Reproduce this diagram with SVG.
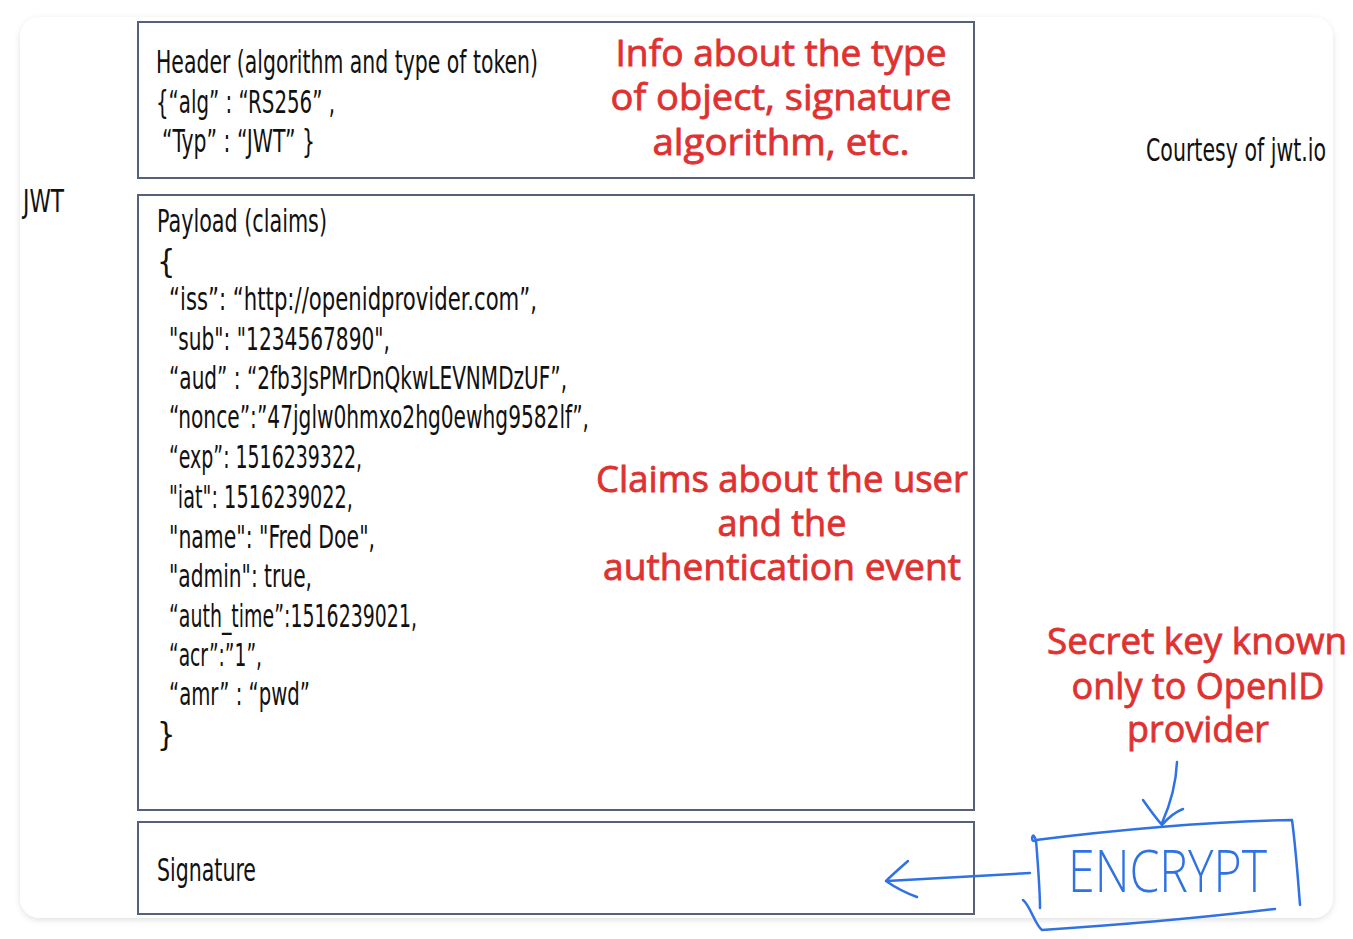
<svg xmlns="http://www.w3.org/2000/svg" width="1353" height="939" viewBox="0 0 1353 939">
<defs>
<filter id="sh" x="-5%" y="-5%" width="110%" height="110%">
<feDropShadow dx="0" dy="2" stdDeviation="3" flood-color="#000" flood-opacity="0.12"/>
</filter>
<style>
.box{fill:#fff;stroke:#56607a;stroke-width:2}
.t{font-family:"Liberation Sans Narrow","DejaVu Sans Condensed","Liberation Sans",sans-serif;font-size:32px;fill:#111}
.r{font-family:"Open Sans","DejaVu Sans",sans-serif;font-size:36px;fill:#e03131;stroke:#e03131;stroke-width:0.8;text-anchor:middle}
.b{fill:none;stroke:#2f72e4;stroke-width:2.5;stroke-linecap:round;stroke-linejoin:round}
.bt{font-family:"Open Sans","Liberation Sans Narrow",sans-serif;font-size:58px;font-weight:300;fill:#2f72e4}
</style>
</defs>
<rect width="1353" height="939" fill="#fff"/>
<rect x="20" y="17" width="1313" height="901" rx="20" fill="#fff" filter="url(#sh)"/>

<g id="jwt-label"><text class="t" x="23" y="212" textLength="41" lengthAdjust="spacingAndGlyphs">JWT</text></g>
<g id="courtesy"><text class="t" x="1146" y="161" textLength="180" lengthAdjust="spacingAndGlyphs">Courtesy of jwt.io</text></g>

<g id="header">
<rect class="box" x="138" y="22" width="836" height="156"/>
<text class="t" x="156" y="73" textLength="382" lengthAdjust="spacingAndGlyphs">Header (algorithm and type of token)</text>
<text class="t" x="156" y="113" textLength="179" lengthAdjust="spacingAndGlyphs">{“alg” : “RS256” ,</text>
<text class="t" x="162" y="152" textLength="153" lengthAdjust="spacingAndGlyphs">“Typ” : “JWT” }</text>
<text class="r" x="781" y="66" textLength="331" lengthAdjust="spacingAndGlyphs">Info about the type</text>
<text class="r" x="781" y="110" textLength="341" lengthAdjust="spacingAndGlyphs">of object, signature</text>
<text class="r" x="781" y="155" textLength="257" lengthAdjust="spacingAndGlyphs">algorithm, etc.</text>
</g>

<g id="payload">
<rect class="box" x="138" y="195" width="836" height="615"/>
<text class="t" x="157" y="232" textLength="170" lengthAdjust="spacingAndGlyphs">Payload (claims)</text>
<text class="t" x="157" y="272">{</text>
<text class="t" x="169" y="310" textLength="368" lengthAdjust="spacingAndGlyphs">“iss”: “http://openidprovider.com”,</text>
<text class="t" x="169" y="350" textLength="221" lengthAdjust="spacingAndGlyphs">"sub": "1234567890",</text>
<text class="t" x="169" y="389" textLength="398" lengthAdjust="spacingAndGlyphs">“aud” : “2fb3JsPMrDnQkwLEVNMDzUF”,</text>
<text class="t" x="169" y="428" textLength="420" lengthAdjust="spacingAndGlyphs">“nonce”:”47jglw0hmxo2hg0ewhg9582lf”,</text>
<text class="t" x="169" y="468" textLength="193" lengthAdjust="spacingAndGlyphs">“exp”: 1516239322,</text>
<text class="t" x="169" y="508" textLength="184" lengthAdjust="spacingAndGlyphs">"iat": 1516239022,</text>
<text class="t" x="169" y="548" textLength="206" lengthAdjust="spacingAndGlyphs">"name": "Fred Doe",</text>
<text class="t" x="169" y="587" textLength="143" lengthAdjust="spacingAndGlyphs">"admin": true,</text>
<text class="t" x="169" y="627" textLength="248" lengthAdjust="spacingAndGlyphs">“auth_time”:1516239021,</text>
<text class="t" x="169" y="666" textLength="93" lengthAdjust="spacingAndGlyphs">“acr”:”1”,</text>
<text class="t" x="169" y="705" textLength="141" lengthAdjust="spacingAndGlyphs">“amr” : “pwd”</text>
<text class="t" x="157" y="745">}</text>
<text class="r" x="782" y="492" textLength="372" lengthAdjust="spacingAndGlyphs">Claims about the user</text>
<text class="r" x="782" y="536" textLength="129" lengthAdjust="spacingAndGlyphs">and the</text>
<text class="r" x="782" y="580" textLength="358" lengthAdjust="spacingAndGlyphs">authentication event</text>
</g>

<g id="signature">
<rect class="box" x="138" y="822" width="836" height="92"/>
<text class="t" x="157" y="881" textLength="99" lengthAdjust="spacingAndGlyphs">Signature</text>
</g>

<g id="secret-key">
<text class="r" x="1197" y="654" textLength="300" lengthAdjust="spacingAndGlyphs">Secret key known</text>
<text class="r" x="1198" y="699" textLength="253" lengthAdjust="spacingAndGlyphs">only to OpenID</text>
<text class="r" x="1198" y="742" textLength="142" lengthAdjust="spacingAndGlyphs">provider</text>
</g>

<g id="encrypt">
<path class="b" d="M1035,838 C1032,830 1030,845 1036,840 C1100,832 1200,822 1292,820 C1296,850 1298,880 1300,905"/>
<path class="b" d="M1036,840 C1038,865 1040,890 1040,908"/>
<path class="b" d="M1275,909 C1200,918 1120,925 1042,930 C1035,925 1030,905 1023,900"/>
<text class="bt" x="1068" y="892" textLength="199" lengthAdjust="spacingAndGlyphs">ENCRYPT</text>
</g>

<g id="connectors">
<path class="b" d="M1177,762 C1176,785 1170,805 1162,823"/>
<path class="b" d="M1143,800 C1150,810 1156,818 1162,825 C1168,818 1175,812 1183,809"/>
<path class="b" d="M1030,873 C980,876 930,879 887,881"/>
<path class="b" d="M908,861 C900,868 892,875 886,881 C896,888 906,893 917,897"/>
</g>
</svg>
